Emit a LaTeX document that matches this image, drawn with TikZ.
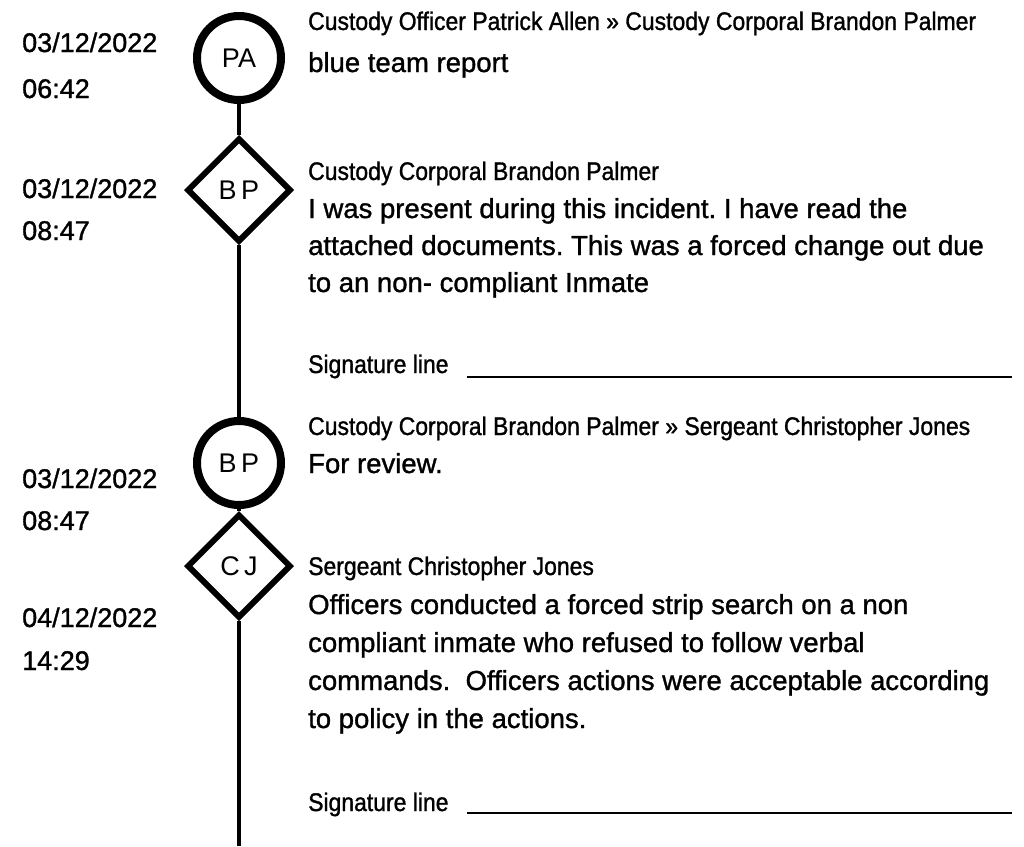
\documentclass[tikz,border=0pt]{standalone}
\usepackage{fontspec}
\setmainfont{Liberation Sans}[FakeBold=1.2]
\newfontfamily\narrowfont[FakeStretch=0.9, FakeBold=1.2]{Liberation Sans}
\newfontfamily\markfont{Liberation Sans}
\frenchspacing
\usetikzlibrary{shapes.geometric}
\tikzset{
	datetext/.style={anchor=base west, inner sep=0, font=\fontsize{27}{30}\selectfont},
	bodytext/.style={anchor=base west, inner sep=0, font=\fontsize{27.5}{30}\selectfont},
	headtext/.style={anchor=base west, inner sep=0, font=\narrowfont\fontsize{25.5}{28}\selectfont},
	sendmark/.style={circle, draw, fill=white, line width=8pt, minimum size=84pt, inner sep=0, font=\markfont\fontsize{27}{29}\selectfont},
	notemark/.style={diamond, draw, fill=white, line width=6pt, minimum size=104pt, inner sep=0, font=\markfont\fontsize{27}{29}\selectfont},
	timeline/.style={line width=4pt},
	sigline/.style={line width=2.5pt}
}

\begin{document}
\begin{tikzpicture}[x=1pt, y=-1pt]
			%%%%% START %%%%%
			\useasboundingbox (0, 0) rectangle (1024, 846);
			
			\node[sendmark] (pa) at (239, 58) {PA};
			\node[notemark] (bp1) at (239, 190) {B\,P};
			\node[sendmark] (bp2) at (239, 463) {B\,P};
			\node[notemark] (cj) at (239, 566) {C\,J};
			\coordinate (tlend) at (239, 846);
			
			\draw[timeline] (pa) -- (bp1);
			\draw[timeline] (bp1) -- (bp2);
			\draw[timeline] (bp2) -- (cj);
			\draw[timeline] (cj) -- (tlend);
			
			%%%%% DATES %%%%%
			\node[datetext] (d1) at (22, 52) {03/12/2022};
			\node[datetext] (t1) at (22, 98) {06:42};
			\node[datetext] (d2) at (22, 198) {03/12/2022};
			\node[datetext] (t2) at (22, 240) {08:47};
			\node[datetext] (d3) at (22, 488) {03/12/2022};
			\node[datetext] (t3) at (22, 530) {08:47};
			\node[datetext] (d4) at (22, 627) {04/12/2022};
			\node[datetext] (t4) at (22, 670) {14:29};
			
			%%%%% ENTRY 1 %%%%%
			\node[headtext] (h1) at (308, 30) {Custody Officer Patrick Allen » Custody Corporal Brandon Palmer};
			\node[bodytext] (b1) at (308, 72) {blue team report};
			
			%%%%% ENTRY 2 %%%%%
			\node[headtext] (h2) at (308, 180) {Custody Corporal Brandon Palmer};
			\node[bodytext] (b2a) at (308, 218) {I was present during this incident. I have read the};
			\node[bodytext] (b2b) at (308, 255) {attached documents. This was a forced change out due};
			\node[bodytext] (b2c) at (308, 292) {to an non- compliant Inmate};
			\node[headtext] (s2) at (308, 373) {Signature line};
			\coordinate (s2a) at (467, 377);
			\coordinate (s2b) at (1012, 377);
			\draw[sigline] (s2a) -- (s2b);
			
			%%%%% ENTRY 3 %%%%%
			\node[headtext] (h3) at (308, 435) {Custody Corporal Brandon Palmer » Sergeant Christopher Jones};
			\node[bodytext] (b3) at (308, 473) {For review.};
			
			%%%%% ENTRY 4 %%%%%
			\node[headtext] (h4) at (308, 575) {Sergeant Christopher Jones};
			\node[bodytext] (b4a) at (308, 614) {Officers conducted a forced strip search on a non};
			\node[bodytext] (b4b) at (308, 652) {compliant inmate who refused to follow verbal};
			\node[bodytext] (b4c) at (308, 690) {commands.\ \ Officers actions were acceptable according};
			\node[bodytext] (b4d) at (308, 728) {to policy in the actions.};
			\node[headtext] (s4) at (308, 811) {Signature line};
			\coordinate (s4a) at (467, 813);
			\coordinate (s4b) at (1012, 813);
			\draw[sigline] (s4a) -- (s4b);
			
			%%%%% END %%%%%
		\end{tikzpicture}
\end{document}
